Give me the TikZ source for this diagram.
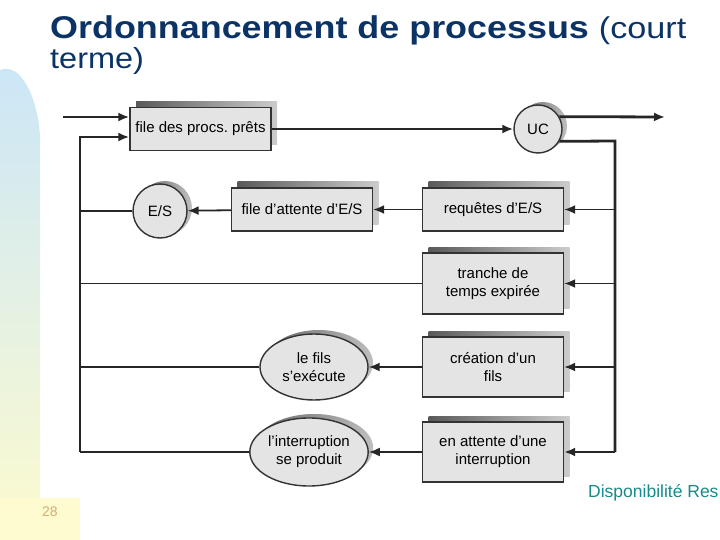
\documentclass[tikz,border=0pt]{standalone}
\usepackage{fontspec}
\setmainfont{Liberation Sans}
\usetikzlibrary{shapes.geometric,arrows.meta,shadows}

\definecolor{titleblue}{HTML}{0B3366}
\definecolor{bandtop}{HTML}{CBE6F8}
\definecolor{bandbot}{HTML}{FDFBCF}
\definecolor{pagenum}{HTML}{D6AE78}
\definecolor{footteal}{HTML}{178A8A}
\definecolor{boxfill}{HTML}{E4E4E4}

\tikzset{
  qbox/.style={draw=black!80, line width=1.4pt, fill=boxfill, align=center,
    minimum width=141pt, minimum height=43pt,
    font=\fontsize{15}{18}\selectfont,
    general shadow={shadow xshift=6pt, shadow yshift=6pt, left color=black!65, right color=black!20}},
  proc/.style={circle, draw=black!80, line width=1.4pt, fill=boxfill, inner sep=0pt,
    font=\fontsize{15}{18}\selectfont,
    general shadow={shadow xshift=5pt, shadow yshift=3pt, left color=black!60, right color=black!25}},
  evt/.style={ellipse, draw=black!80, line width=1.4pt, fill=boxfill, inner sep=1pt, align=center,
    font=\fontsize{15}{18}\selectfont,
    general shadow={shadow xshift=5pt, shadow yshift=4pt, left color=black!60, right color=black!25}},
  main/.style={line width=2.8pt, black!85},
  line/.style={line width=1.8pt, black!85},
  >={Latex[length=11pt,width=9pt]}
}

\begin{document}
\begin{tikzpicture}[x=1pt,y=-1pt]
\useasboundingbox (0,0) rectangle (720,540);

% side band
\shade[top color=bandtop, bottom color=bandbot]
  (0,540) -- (0,70) .. controls (20,62) and (37,95) .. (40,135) -- (40,540) -- cycle;
\fill[bandbot] (0,498) rectangle (80,540);

% title
\node[anchor=base west, inner sep=0pt, text=titleblue] (title) at (50,39)
  {\scalebox{1.14}[1]{\fontsize{31.5}{34}\selectfont\bfseries Ordonnancement de processus \mdseries\fontsize{30}{34}\selectfont(court}};
\node[anchor=base west, inner sep=0pt, text=titleblue] (title2) at (50,69)
  {\scalebox{1.12}[1]{\fontsize{29}{34}\selectfont terme)}};

% queues and events
\node[qbox] (ready) at (200.5,129) {file des procs.\ prêts};
\node[proc, minimum size=48pt] (uc) at (538,129) {UC};
\node[qbox] (ioq) at (302,209.5) {file d'attente d'E/S};
\node[proc, minimum size=54pt] (io) at (160,211) {E/S};
\node[qbox] (ioreq) at (493,209.5) {requêtes d'E/S};
\node[qbox, minimum height=61pt] (slice) at (493,283.5) {tranche de\\temps expirée};
\node[qbox, minimum height=60pt] (fork) at (493,367) {création d'un\\fils};
\node[qbox, minimum height=60pt] (intw) at (493,452) {en attente d'une\\interruption};
\node[evt, minimum width=108pt, minimum height=66pt] (child) at (314,367) {le fils\\s'exécute};
\node[evt, minimum width=118pt, minimum height=68pt] (intr) at (309,452) {l'interruption\\se produit};

\coordinate (in) at (63,117);
\coordinate (out) at (665,117);
\coordinate (lt) at (80,137);
\coordinate (lb) at (80,452);
\coordinate (rt) at (615,141);
\coordinate (rb) at (615,452);

% main loop
\draw[main,->] (in) -- (in -| ready.west);
\draw[main,->] (ready) -- (uc);
\draw[main,->] (uc.30) -- (out);
\draw[main] (uc.-30) -- (rt) -- (rb);
\draw[main,->] (lb) -- (lt) -- (lt -| ready.west);

% branches
\draw[line,->] (ioreq.east -| rt) -- (ioreq.east);
\draw[line,->] (slice.east -| rt) -- (slice.east);
\draw[line,->] (fork.east -| rt) -- (fork.east);
\draw[main,->] (rb) -- (intw.east);
\draw[line,->] (ioreq) -- (ioq);
\draw[line,->] (ioq) -- (io);
\draw[line] (io) -- (io -| lt);
\draw[line] (slice) -- (slice -| lt);
\draw[line,->] (fork) -- (child);
\draw[main] (child) -- (child -| lt);
\draw[line,->] (intw) -- (intr);
\draw[main] (intr) -- (lb);

% footer
\node[anchor=base west, inner sep=0pt, text=pagenum, font=\fontsize{14}{16}\selectfont] (page) at (42,516) {28};
\node[anchor=base west, inner sep=0pt, text=footteal, font=\fontsize{17.5}{20}\selectfont] (foot) at (588,497) {Disponibilité Res};
\end{tikzpicture}
\end{document}
